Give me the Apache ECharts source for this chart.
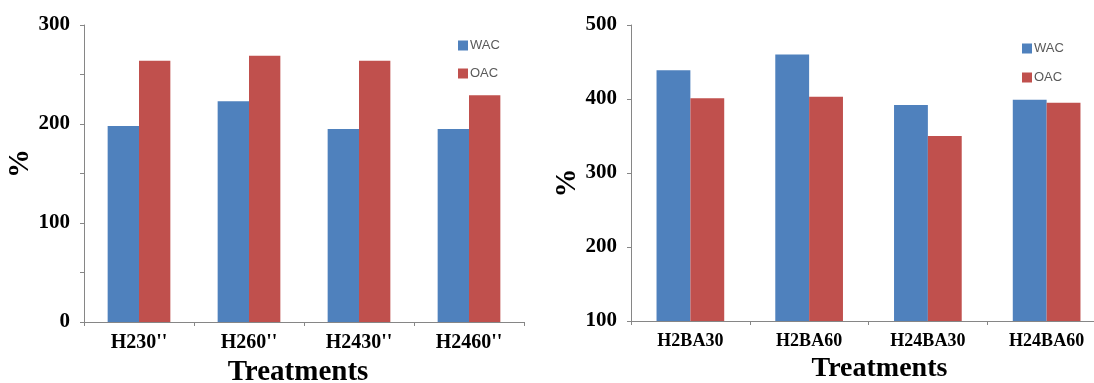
<!DOCTYPE html>
<html>
<head>
<meta charset="utf-8">
<script src="https://cdn.jsdelivr.net/npm/echarts@6/dist/echarts.min.js"></script>
<style>
  html, body { margin: 0; padding: 0; background: #ffffff; }
  #chart { width: 1094px; height: 383px; }
</style>
</head>
<body>
<div id="chart"></div>
<script>
// Left panel: treatments H2 with 30/60 and 2430/2460
const leftCategories = ["H230''", "H260''", "H2430''", "H2460''"];
const leftWAC = [198, 223, 195, 195];
const leftOAC = [264, 269, 264, 229];

// Right panel: BA treatments
const rightCategories = ['H2BA30', 'H2BA60', 'H24BA30', 'H24BA60'];
const rightWAC = [439, 460, 392, 399];
const rightOAC = [401, 403, 350, 395];

const seriesNames = ['WAC', 'OAC'];
const colors = { WAC: '#4F81BD', OAC: '#C0504D' };

const serif = '"Liberation Serif", "Times New Roman", serif';
const axisColor = '#868686';

function xAxisFor(gridIndex, cats, labelSize, nameSize, namePad) {
  return {
    type: 'category',
    gridIndex: gridIndex,
    data: cats,
    name: 'Treatments',
    nameLocation: 'middle',
    nameGap: 30,
    nameTextStyle: { fontFamily: serif, fontWeight: 'bold', fontSize: nameSize, color: '#000', padding: namePad },
    axisLine: { lineStyle: { color: axisColor, width: 1 } },
    axisTick: { show: true, length: 4, lineStyle: { color: axisColor } },
    axisLabel: { fontFamily: serif, fontWeight: 'bold', fontSize: labelSize, color: '#000', margin: 11 }
  };
}

function yAxisFor(gridIndex, min, max, interval, labelStep, namePad) {
  return {
    type: 'value',
    gridIndex: gridIndex,
    min: min,
    max: max,
    interval: interval,
    name: '%',
    nameLocation: 'middle',
    nameRotate: 90,
    nameGap: 47,
    nameTextStyle: { fontFamily: serif, fontWeight: 'bold', fontSize: 29, color: '#000', padding: namePad },
    splitLine: { show: false },
    axisLine: { show: true, lineStyle: { color: axisColor, width: 1 } },
    axisTick: { show: true, length: 4, lineStyle: { color: axisColor } },
    axisLabel: {
      fontFamily: serif, fontWeight: 'bold', fontSize: 21, color: '#000', margin: 14,
      formatter: function (v) { return v % labelStep === 0 ? String(v) : ''; }
    }
  };
}

function barSeries(name, data, axisIndex) {
  return {
    type: 'bar',
    name: name,
    data: data,
    xAxisIndex: axisIndex,
    yAxisIndex: axisIndex,
    barGap: '0%',
    barCategoryGap: '43%',
    itemStyle: { color: colors[name] }
  };
}

function legendAt(left, top, gap) {
  return {
    orient: 'vertical',
    left: left,
    top: top,
    itemWidth: 10,
    itemHeight: 10,
    itemGap: gap,
    icon: 'rect',
    data: seriesNames,
    textStyle: { fontFamily: '"Liberation Sans", Arial, sans-serif', fontSize: 13, color: '#595959', padding: [0, 0, 0, -3] }
  };
}

const chart = echarts.init(document.getElementById('chart'), null, { renderer: 'canvas' });
chart.setOption({
  animation: false,
  backgroundColor: '#ffffff',
  legend: [legendAt(453, 34, 15), legendAt(1017, 37, 16)],
  grid: [
    { left: 84, top: 25, width: 440, height: 297, containLabel: false, outerBoundsMode: 'none' },
    { left: 631, top: 25, width: 475, height: 296, containLabel: false, outerBoundsMode: 'none' }
  ],
  xAxis: [
    xAxisFor(0, leftCategories, 20, 29, [0, 12, 0, 0]),
    xAxisFor(1, rightCategories, 18, 28, [0, 0, 0, 22])
  ],
  yAxis: [
    yAxisFor(0, 0, 300, 50, 100, [0, 0, 0, 20]),
    yAxisFor(1, 100, 500, 100, 100, [0, 20, 0, 0])
  ],
  series: [
    barSeries('WAC', leftWAC, 0),
    barSeries('OAC', leftOAC, 0),
    barSeries('WAC', rightWAC, 1),
    barSeries('OAC', rightOAC, 1)
  ]
});
</script>
</body>
</html>
